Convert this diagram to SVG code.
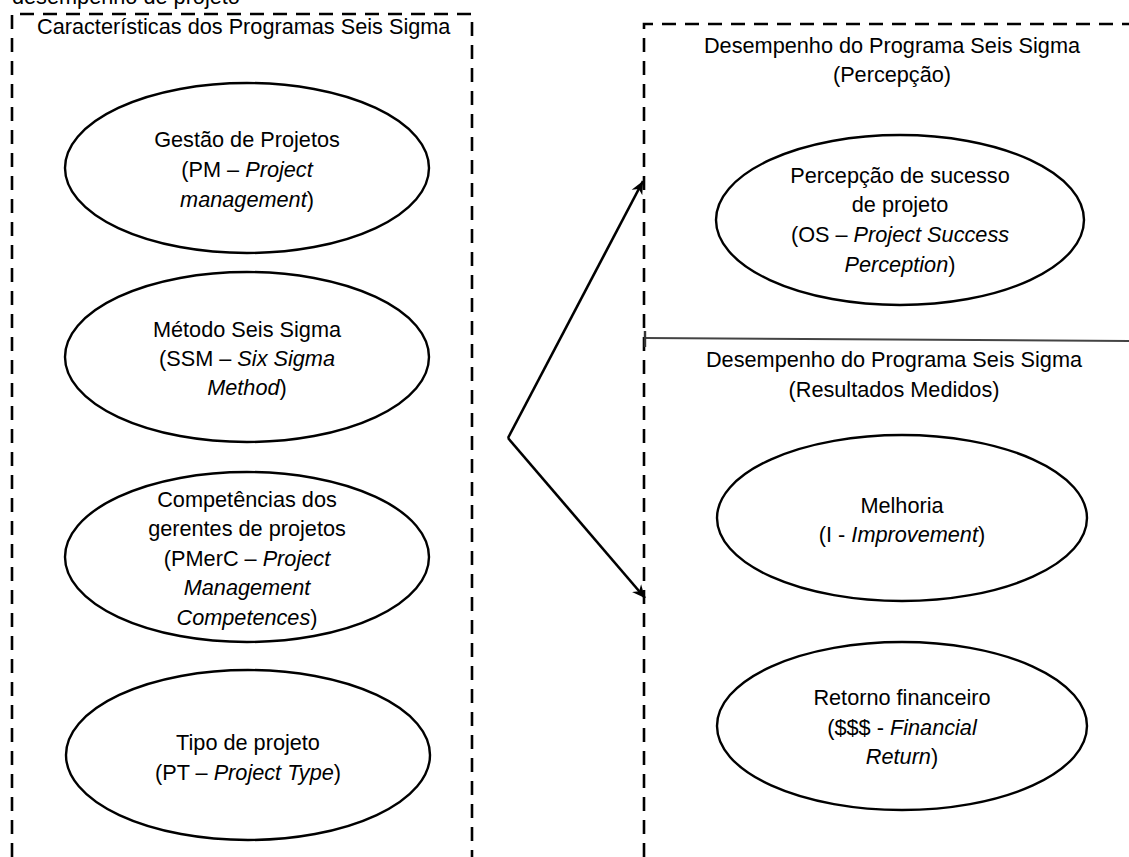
<svg xmlns="http://www.w3.org/2000/svg" width="1129" height="857" viewBox="0 0 1129 857">
  <style>
    text { font-family: "Liberation Sans", Arial, sans-serif; font-size: 21.7px; fill: #000; }
    .c { text-anchor: middle; }
    .i { font-style: italic; }
    .frame { fill: none; stroke: #000; stroke-width: 2.6; stroke-dasharray: 14 9; }
    .node { fill: #fff; stroke: #000; stroke-width: 2.4; }
    .edge { fill: none; stroke: #000; stroke-width: 2.6; }
  </style>
  <defs>
    <marker id="arrow" markerUnits="userSpaceOnUse" markerWidth="16" markerHeight="16" refX="13" refY="7" orient="auto">
      <path d="M0,1 L13,7 L0,13 L4,7 Z" fill="#000"/>
    </marker>
  </defs>
  <rect width="1129" height="857" fill="#fff"/>

  <!-- caption line running off the top edge -->
  <text x="12" y="4">desempenho de projeto</text>

  <!-- left group frame -->
  <g id="frame-caracteristicas">
    <path class="frame" d="M12,857 L12,14 L472,14 L472,857"/>
    <text x="37" y="34">Características dos Programas Seis Sigma</text>
  </g>

  <!-- right group frames -->
  <g id="frame-percepcao">
    <path class="frame" d="M644,857 L644,24 L1129,24"/>
    <text class="c" x="892" y="53">Desempenho do Programa Seis Sigma</text>
    <text class="c" x="892" y="82">(Percepção)</text>
  </g>
  <g id="frame-resultados">
    <path d="M645,338 L1129,341" fill="none" stroke="#444" stroke-width="2"/>
    <path d="M645,331 L645,347" fill="none" stroke="#333" stroke-width="2.4"/>
    <text class="c" x="894" y="367">Desempenho do Programa Seis Sigma</text>
    <text class="c" x="894" y="397">(Resultados Medidos)</text>
  </g>

  <!-- left column nodes -->
  <g id="node-pm">
    <ellipse class="node" cx="247" cy="168" rx="182" ry="85"/>
    <text class="c" x="247" y="147">Gestão de Projetos</text>
    <text class="c" x="247" y="177">(PM – <tspan class="i">Project</tspan></text>
    <text class="c" x="247" y="207"><tspan class="i">management</tspan>)</text>
  </g>
  <g id="node-ssm">
    <ellipse class="node" cx="247" cy="357" rx="182" ry="85"/>
    <text class="c" x="247" y="337">Método Seis Sigma</text>
    <text class="c" x="247" y="366">(SSM – <tspan class="i">Six Sigma</tspan></text>
    <text class="c" x="247" y="395"><tspan class="i">Method</tspan>)</text>
  </g>
  <g id="node-pmerc">
    <ellipse class="node" cx="247" cy="557" rx="182" ry="85"/>
    <text class="c" x="247" y="507">Competências dos</text>
    <text class="c" x="247" y="536">gerentes de projetos</text>
    <text class="c" x="247" y="566">(PMerC – <tspan class="i">Project</tspan></text>
    <text class="c" x="247" y="595"><tspan class="i">Management</tspan></text>
    <text class="c" x="247" y="625"><tspan class="i">Competences</tspan>)</text>
  </g>
  <g id="node-pt">
    <ellipse class="node" cx="248" cy="755" rx="182" ry="85"/>
    <text class="c" x="248" y="750">Tipo de projeto</text>
    <text class="c" x="248" y="780">(PT – <tspan class="i">Project Type</tspan>)</text>
  </g>

  <!-- right column nodes -->
  <g id="node-os">
    <ellipse class="node" cx="900" cy="220" rx="184" ry="85"/>
    <text class="c" x="900" y="183">Percepção de sucesso</text>
    <text class="c" x="900" y="212">de projeto</text>
    <text class="c" x="900" y="242">(OS – <tspan class="i">Project Success</tspan></text>
    <text class="c" x="900" y="272"><tspan class="i">Perception</tspan>)</text>
  </g>
  <g id="node-i">
    <ellipse class="node" cx="902" cy="518" rx="185" ry="83"/>
    <text class="c" x="902" y="513">Melhoria</text>
    <text class="c" x="902" y="542">(I - <tspan class="i">Improvement</tspan>)</text>
  </g>
  <g id="node-fr">
    <ellipse class="node" cx="902" cy="726" rx="185" ry="84"/>
    <text class="c" x="902" y="705">Retorno financeiro</text>
    <text class="c" x="902" y="735">($$$ - <tspan class="i">Financial</tspan></text>
    <text class="c" x="902" y="764"><tspan class="i">Return</tspan>)</text>
  </g>

  <!-- connectors -->
  <g id="connectors">
    <path class="edge" d="M508,438 L643,181" marker-end="url(#arrow)"/>
    <path class="edge" d="M508,438 L645,598" marker-end="url(#arrow)"/>
  </g>
</svg>
